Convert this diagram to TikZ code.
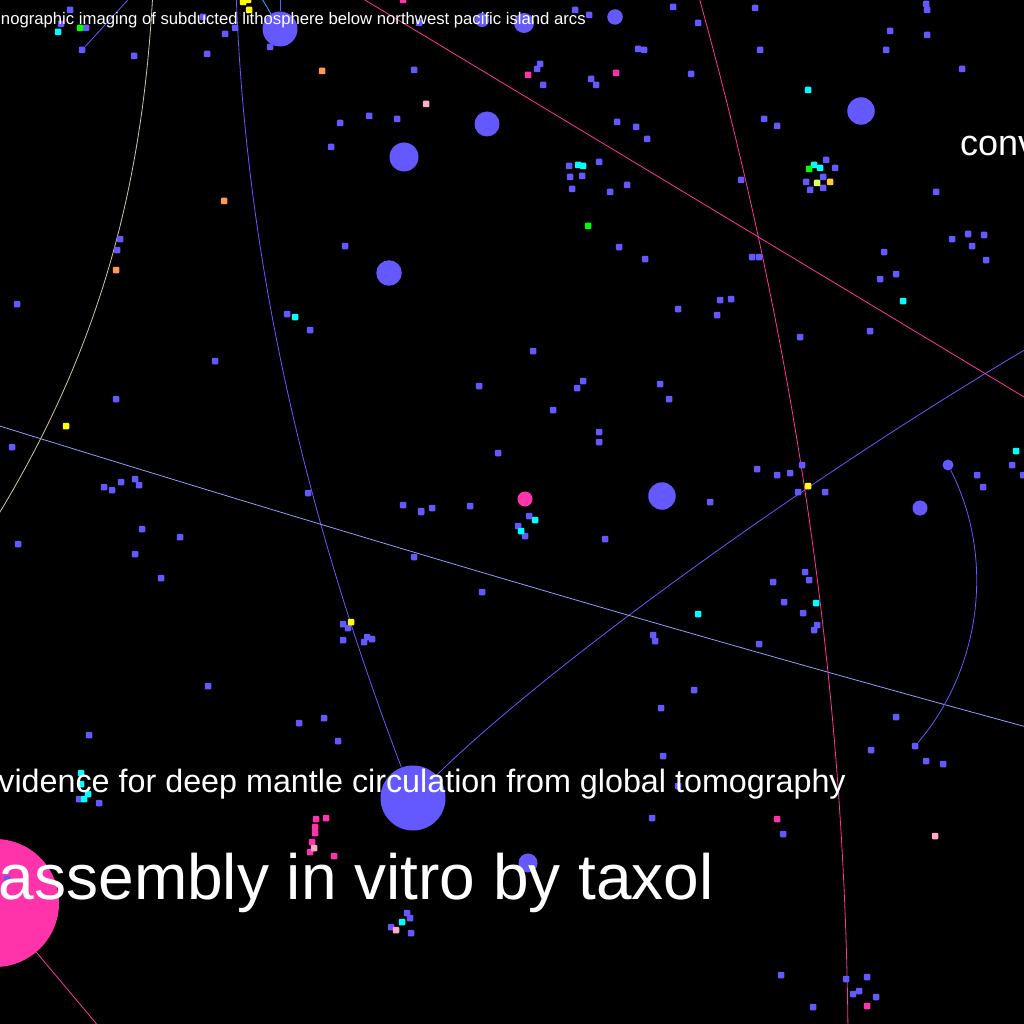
\documentclass[tikz,border=0pt]{standalone}
\usepackage{fontspec}
\setmainfont{Liberation Sans}
\definecolor{nodeblue}{HTML}{6458FF}
\definecolor{nodepink}{HTML}{FF33AA}
\definecolor{nodecyan}{HTML}{00FFFF}
\definecolor{nodeyellow}{HTML}{FFFF00}
\definecolor{nodeorange}{HTML}{FF9955}
\definecolor{nodegreen}{HTML}{00FF00}
\definecolor{nodelightpink}{HTML}{FFAACC}
\definecolor{nodelime}{HTML}{DDFF66}
\definecolor{nodegold}{HTML}{FFCC33}
\definecolor{edgeblue}{HTML}{6458FF}
\definecolor{edgepale}{HTML}{8AA0FF}
\definecolor{edgesand}{HTML}{D0C8A0}
\definecolor{edgepink}{HTML}{FF3399}
\definecolor{edgesky}{HTML}{33AAFF}

\begin{document}
\begin{tikzpicture}[x=1pt, y=-1pt,
		dot/.style={rectangle, rounded corners=1pt, inner sep=0pt, minimum size=6.5pt, fill=#1},
		dot/.default=nodeblue,
		hub/.style={circle, inner sep=0pt, minimum size=#1, fill=nodeblue},
		pinkhub/.style={circle, inner sep=0pt, minimum size=#1, fill=nodepink},
		edge/.style={draw=#1, line width=0.8pt},
		title/.style={text=white, inner sep=0pt}]
				\useasboundingbox (0,0) rectangle (1024,1024);
				\fill[black] (0,0) rectangle (1024,1024);
				\clip (0,0) rectangle (1024,1024);
				% end points off the page
				\coordinate (sandTop) at (153,-10);
				\coordinate (sandEnd) at (-8,525);
				\coordinate (blueTop) at (236,-10);
				\coordinate (blueEnd) at (1040,341);
				\coordinate (paleStart) at (-10,423);
				\coordinate (paleEnd) at (1034,729);
				\coordinate (pinkStart) at (355,-6);
				\coordinate (pinkEnd) at (1034,403);
				\coordinate (arcTop) at (697,-10);
				\coordinate (arcBottom) at (848,1034);
				\coordinate (shortTop) at (137,-10);
				\coordinate (skyTop) at (258,-8);
				\coordinate (upTop) at (280,-10);
				\coordinate (pinkLow) at (105,1034);
				% hubs
				\node[hub=35pt] (subduct) at (280,29) {};
				\node[hub=65pt] (mantle) at (413,798) {};
				\node[hub=11pt] (ring) at (948,465) {};
				\node[pinkhub=128pt] (taxolhub) at (-5,903) {};
				\node[dot] (corner) at (82,50) {};
				\node[dot] (ringEnd) at (915,746) {};
				% connectors
				\draw[edge=edgesand] (sandTop) .. controls (143.5,170) and (108,338) .. (sandEnd);
				\draw[edge=edgeblue] (blueTop) .. controls (245,250) and (300,500) .. (mantle);
				\draw[edge=edgeblue] (mantle) .. controls (563,652) and (840,457) .. (blueEnd);
				\draw[edge=edgepale] (paleStart) .. controls (341,532) and (683,634) .. (paleEnd);
				\draw[edge=edgepink] (pinkStart) -- (pinkEnd);
				\draw[edge=edgepink] (arcTop) .. controls (795,341) and (845,683) .. (arcBottom);
				\draw[edge=edgeblue] (ring) .. controls (995,556.6) and (981.9,667.7) .. (ringEnd);
				\draw[edge=edgeblue] (corner) -- (shortTop);
				\draw[edge=edgesky] (subduct) -- (skyTop);
				\draw[edge=edgeblue] (subduct) -- (upTop);
				\draw[edge=edgepink] (taxolhub) -- (pinkLow);
				% small nodes
				\foreach \x/\y [count=\i] in {70/10,61/24,86/28,134/56,207/54,203/17,225/34,235/28,270/47,414/70,369/116,340/123,397/119,331/147,120/239,117/250,17/304,345/246,287/314,310/330,215/361,116/399,12/447,104/487,112/490,121/482,135/479,139/485,308/493,479/386,498/453,403/505,421/511,432/508,470/506,419/23,
						575/10,673/7,755/8,926/4,927/10,589/15,698/23,890/31,927/35,760/50,886/50,638/49,644/50,540/64,537/69,591/79,596/85,543/85,691/74,962/69,617/122,636/127,647/139,764/119,777/126,569/166,599/162,570/177,582/176,572/189,610/192,627/185,741/180,826/160,835/168,823/177,806/182,810/190,823/188,936/192,619/247,645/259,752/257,759/257,952/239,968/234,984/235,972/246,986/260,884/252,896/274,880/279,720/300,731/299,678/309,717/315,800/337,870/331,533/351,583/381,577/388,660/384,669/399,553/410,599/432,599/442,757/469,777/475,790/473,802/465,798/492,825/492,710/502,1012/465,977/475,983/487,1023/475,
						18/544,142/529,180/537,135/554,161/578,421/512,414/557,482/592,343/624,348/628,343/640,367/637,364/642,372/639,208/686,89/735,299/723,324/718,338/741,79/799,99/803,7/879,407/913,410/918,391/927,411/933,
						529/516,518/526,525/536,605/539,805/572,809/580,773/582,784/602,803/613,817/625,814/630,653/635,655/641,759/644,694/690,661/708,896/717,871/750,926/761,943/764,663/756,678/786,652/818,783/834,781/975,846/979,867/977,859/991,853/994,876/997,813/1007}
					\node[dot] (b\i) at (\x,\y) {};
				\foreach \x/\y [count=\i] in {58/32,295/317,808/90,578/165,583/166,814/165,820/168,903/301,1016/451,81/773,81/784,88/794,84/799,402/922,535/520,521/531,816/603,698/614}
					\node[dot=nodecyan] (c\i) at (\x,\y) {};
				\foreach \x/\y [count=\i] in {243/2,248/0,249/10,66/426,351/622,808/486}
					\node[dot=nodeyellow] (y\i) at (\x,\y) {};
				\foreach \x/\y [count=\i] in {322/71,224/201,116/270}
					\node[dot=nodeorange] (o\i) at (\x,\y) {};
				\foreach \x/\y [count=\i] in {80/28,809/169,588/226}
					\node[dot=nodegreen] (g\i) at (\x,\y) {};
				\foreach \x/\y [count=\i] in {403/0,528/75,616/73,316/819,326/818,315/827,315/833,312/842,310/852,334/856,777/819,867/1006}
					\node[dot=nodepink] (p\i) at (\x,\y) {};
				\foreach \x/\y [count=\i] in {426/104,314/848,396/930,935/836}
					\node[dot=nodelightpink] (l\i) at (\x,\y) {};
				\node[dot=nodelime] (lime) at (817,183) {};
				\node[dot=nodegold] (gold) at (830,182) {};
				% larger nodes
				\foreach \x/\y/\d [count=\i] in {404/157/29pt,487/124/25pt,389/273/25.5pt,482/20/14pt,861/111/27.5pt,615/17/15.5pt,524/23/20pt,662/496/27.5pt,920/508/15pt,528/863/19pt}
					\node[hub=\d] (h\i) at (\x,\y) {};
				\node[pinkhub=15pt] (pinkdot) at (525,499) {};
				% titles
				\node[title, font=\fontsize{16.7}{20}\selectfont, anchor=base east] (arcs) at (586,25) {nographic imaging of subducted lithosphere below northwest pacific island arcs};
				\node[title, font=\fontsize{32.3}{38}\selectfont, anchor=base east] (tomo) at (846,792) {vidence for deep mantle circulation from global tomography};
				\node[title, font=\fontsize{64}{76}\selectfont, anchor=base east] (taxol) at (714,899) {assembly in vitro by taxol};
				\node[title, font=\fontsize{36}{42}\selectfont, anchor=base west] (conv) at (960,156) {conv};
			\end{tikzpicture}
\end{document}
